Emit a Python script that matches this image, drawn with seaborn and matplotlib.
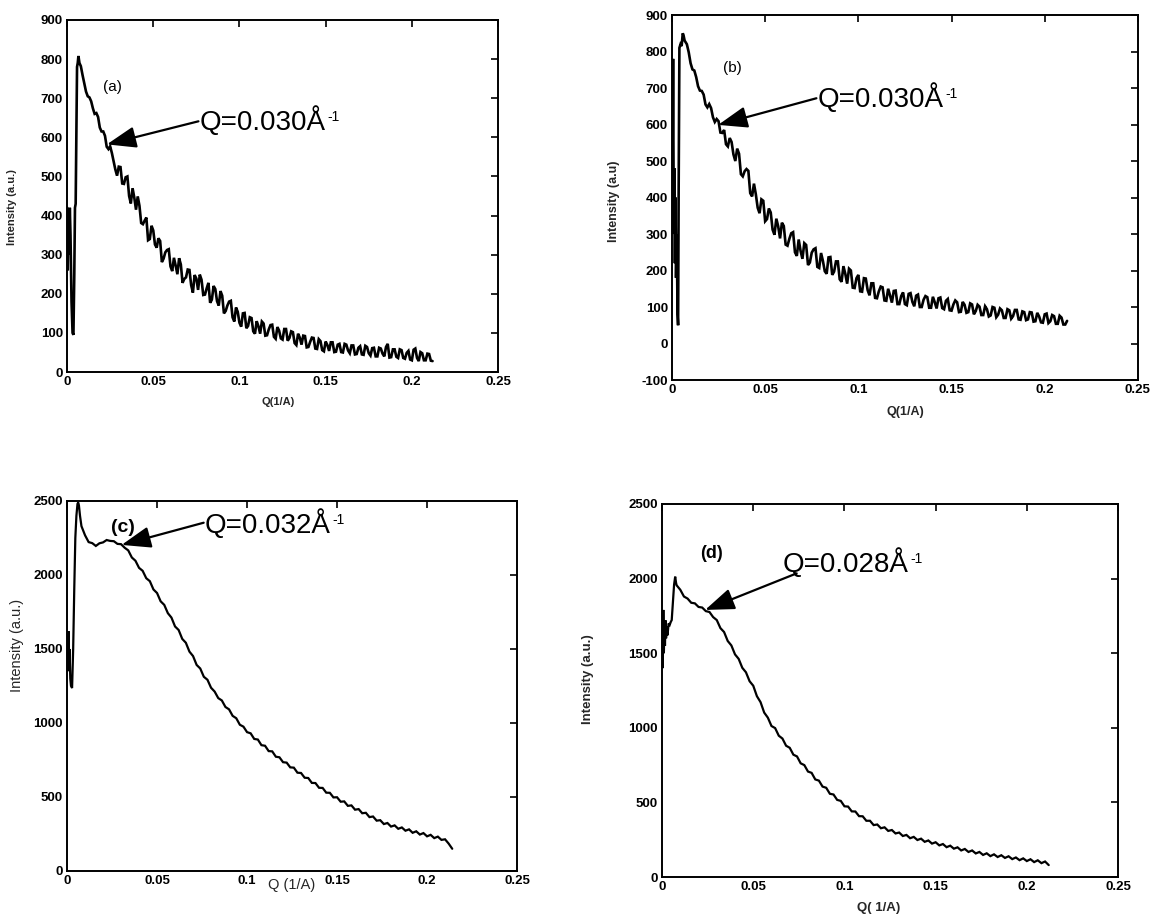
import numpy as np
import pandas as pd
import matplotlib
matplotlib.use("Agg")
import matplotlib.pyplot as plt
import seaborn as sns

# ---------------- data ----------------
q_grid = np.round(np.arange(0.008, 0.2121, 0.002), 4)      # 0.008, 0.010 ... 0.212
q_grid_odd = np.round(np.arange(0.009, 0.2111, 0.002), 4)  # 0.009, 0.011 ... 0.211

q_head_a = [0.0001, 0.0004, 0.0008, 0.0012, 0.0016, 0.0020, 0.0026, 0.0032, 0.0037, 0.0042,
            0.0046, 0.0050, 0.0054, 0.0058, 0.0062, 0.0066, 0.0072]
i_head_a = [420, 260, 400, 300, 420, 350, 180, 100, 95, 250, 420, 430, 600, 780, 790, 808, 790]
i_main_a = [782, 738, 705, 692, 660, 652, 615, 604, 570, 560, 518, 525, 482, 498, 450, 470, 415, 425,
            378, 395, 340, 362, 318, 335, 290, 312, 270, 292, 250, 275, 238, 262, 222, 248, 210, 236,
            198, 228, 185, 212, 170, 195, 156, 180, 140, 165, 126, 150, 112, 140, 104, 130, 98, 124,
            94, 120, 90, 115, 86, 110, 80, 104, 74, 98, 70, 92, 64, 88, 60, 84, 56, 78, 54, 76, 52,
            72, 50, 70, 48, 68, 46, 66, 44, 64, 42, 62, 40, 60, 40, 72, 38, 58, 36, 56, 34, 54, 30,
            60, 28, 48, 30, 46, 28]
i_odd_a = [759, 717, 702, 674, 662, 625, 615, 576, 577, 539, 502, 524, 481, 500, 431, 446, 449, 381,
           387, 337, 374, 326, 342, 281, 306, 314, 258, 272, 291, 228, 242, 261, 203, 239, 249, 197,
           214, 177, 220, 181, 207, 150, 170, 182, 129, 154, 116, 151, 118, 138, 98, 117, 129, 93,
           109, 121, 85, 106, 83, 110, 87, 102, 69, 88, 93, 63, 77, 87, 59, 79, 53, 69, 76, 51, 70,
           51, 72, 55, 68, 45, 62, 45, 67, 48, 61, 40, 62, 47, 64, 37, 58, 39, 58, 36, 49, 32, 57,
           36, 51, 30, 47, 29]

q_head_b = [0.0003, 0.0006, 0.0010, 0.0013, 0.0016, 0.0019, 0.0022, 0.0026, 0.0030, 0.0033,
            0.0036, 0.0040, 0.0046, 0.0052, 0.0058, 0.0062, 0.0068]
i_head_b = [450, 780, 300, 480, 220, 400, 180, 300, 80, 50, 420, 810, 820, 815, 850, 845, 830]
i_main_b = [820, 768, 748, 705, 692, 655, 656, 620, 615, 578, 585, 540, 552, 500, 520, 458, 478, 412,
            438, 372, 395, 335, 370, 312, 342, 288, 322, 268, 302, 250, 285, 232, 270, 222, 258, 210,
            248, 198, 236, 188, 225, 176, 212, 164, 200, 152, 188, 142, 178, 132, 165, 124, 156, 118,
            150, 112, 145, 108, 140, 105, 138, 102, 134, 100, 130, 98, 128, 96, 126, 94, 122, 90, 118,
            86, 114, 84, 110, 80, 106, 78, 102, 74, 100, 72, 96, 70, 94, 68, 92, 66, 88, 64, 86, 60,
            84, 58, 80, 56, 78, 54, 76, 52, 62]
i_odd_b = [798, 751, 730, 693, 682, 647, 645, 607, 609, 577, 546, 563, 518, 534, 464, 472, 473, 403,
           409, 357, 391, 341, 359, 298, 321, 331, 271, 287, 305, 240, 254, 275, 215, 249, 261, 207,
           226, 191, 237, 197, 225, 169, 191, 205, 153, 179, 143, 179, 146, 165, 125, 143, 154, 117,
           132, 144, 108, 130, 108, 136, 114, 131, 100, 120, 127, 98, 113, 124, 97, 117, 91, 107, 113,
           87, 106, 86, 107, 89, 101, 78, 94, 77, 98, 79, 91, 70, 91, 75, 92, 65, 86, 66, 85, 61, 74,
           57, 82, 61, 75, 54, 71, 52]

q_head_c = [0.0002, 0.0005, 0.0008, 0.0011, 0.0014, 0.0018, 0.0022, 0.0028, 0.0034, 0.0040,
            0.0046, 0.0052, 0.0058, 0.0062, 0.0066, 0.0072]
i_head_c = [1600, 1350, 1620, 1380, 1500, 1300, 1250, 1236, 1500, 1900, 2250, 2400, 2480, 2490,
            2470, 2400]
i_main_c = [2330, 2268, 2222, 2215, 2196, 2214, 2220, 2236, 2230, 2228, 2210, 2208, 2184, 2166, 2118,
            2096, 2048, 2028, 1978, 1958, 1902, 1878, 1822, 1798, 1742, 1712, 1652, 1628, 1568, 1542,
            1482, 1452, 1392, 1368, 1312, 1292, 1238, 1212, 1168, 1152, 1108, 1092, 1048, 1032, 988,
            975, 938, 930, 892, 888, 850, 846, 810, 808, 772, 768, 735, 732, 700, 698, 664, 662, 630,
            628, 595, 594, 562, 561, 529, 528, 497, 498, 468, 470, 440, 443, 414, 418, 390, 393, 364,
            368, 340, 343, 317, 324, 300, 308, 285, 294, 272, 281, 258, 268, 246, 256, 234, 244, 222,
            232, 210, 214, 185]
q_tail_c = [0.214]
i_tail_c = [150]

q_head_d = [0.0002, 0.0004, 0.0007, 0.0010, 0.0013, 0.0016, 0.0019, 0.0022, 0.0026, 0.0030,
            0.0036, 0.0042, 0.0048, 0.0053, 0.0060, 0.0066, 0.0072, 0.0077]
i_head_d = [1650, 1400, 1790, 1500, 1700, 1550, 1720, 1600, 1680, 1620, 1700, 1690, 1710, 1722,
            1850, 1960, 2013, 1970]
i_main_d = [1955, 1925, 1880, 1866, 1838, 1834, 1810, 1806, 1782, 1776, 1742, 1722, 1668, 1642, 1582,
            1552, 1492, 1462, 1402, 1372, 1312, 1282, 1212, 1172, 1102, 1068, 1012, 998, 947, 928,
            880, 866, 820, 808, 762, 750, 707, 698, 654, 646, 606, 598, 558, 553, 517, 510, 474, 472,
            440, 439, 408, 407, 377, 377, 348, 352, 327, 333, 309, 315, 292, 298, 275, 282, 260, 269,
            248, 257, 236, 245, 224, 233, 212, 221, 200, 210, 190, 199, 178, 188, 168, 178, 158, 168,
            148, 159, 140, 152, 134, 146, 128, 139, 120, 131, 113, 125, 107, 119, 100, 112, 93, 104, 80]

x_ticks = [0, 0.05, 0.1, 0.15, 0.2, 0.25]
x_tick_labels = ["0", "0.05", "0.1", "0.15", "0.2", "0.25"]
y_ticks_a = [0, 100, 200, 300, 400, 500, 600, 700, 800, 900]
y_ticks_b = [-100, 0, 100, 200, 300, 400, 500, 600, 700, 800, 900]
y_ticks_cd = [0, 500, 1000, 1500, 2000, 2500]

annot_text = ["Q=0.030Å", "Q=0.030Å", "Q=0.032Å", "Q=0.028Å"]
annot_sup = "-1"
panel_tags = ["(a)", "(b)", "(c)", "(d)"]

# ---------------- style ----------------
sns.set_theme(style="white")
plt.rcParams["font.family"] = ["Liberation Sans", "DejaVu Sans"]

fig = plt.figure(figsize=(11.5, 9.17), dpi=100)
fig.patch.set_facecolor("white")

panels = [
    dict(rect=[0.0583, 0.5943, 0.3748, 0.3839], qh=q_head_a, ih=i_head_a, im=i_main_a, io=i_odd_a,
         qt=[], it=[], lw=1.9,
         ylim=(0, 900), yt=y_ticks_a, ylab="Intensity (a.u.)", xlab="Q(1/A)",
         ylc=(-0.115, 0.47), xlc=(0.49, -0.072), labfs=8, labw="bold",
         txt=(0.0767, 620), arr_from=(0.0762, 641), arr_to=(0.0231, 582),
         tag=(0.021, 728), tagfs=11, tagw="normal"),
    dict(rect=[0.5843, 0.5856, 0.4052, 0.3980], qh=q_head_b, ih=i_head_b, im=i_main_b, io=i_odd_b,
         qt=[], it=[], lw=1.9,
         ylim=(-100, 900), yt=y_ticks_b, ylab="Intensity (a.u)", xlab="Q(1/A)",
         ylc=(-0.112, 0.49), xlc=(0.5, -0.07), labfs=9, labw="bold",
         txt=(0.0782, 649), arr_from=(0.0775, 672), arr_to=(0.0248, 599),
         tag=(0.0273, 755), tagfs=11, tagw="normal"),
    dict(rect=[0.0583, 0.0502, 0.3913, 0.4035], qh=q_head_c, ih=i_head_c, im=i_main_c, io=None,
         qt=q_tail_c, it=i_tail_c, lw=1.6,
         ylim=(0, 2500), yt=y_ticks_cd, ylab="Intensity (a.u.)", xlab="Q (1/A)",
         ylc=(-0.095, 0.61), xlc=(0.5, -0.018), labfs=10.5, labw="normal",
         txt=(0.0765, 2284), arr_from=(0.0759, 2353), arr_to=(0.0303, 2203),
         tag=(0.0246, 2324), tagfs=14, tagw="bold"),
    dict(rect=[0.5757, 0.0436, 0.3965, 0.4068], qh=q_head_d, ih=i_head_d, im=i_main_d, io=None,
         qt=[], it=[], lw=1.6,
         ylim=(0, 2500), yt=y_ticks_cd, ylab="Intensity (a.u.)", xlab="Q( 1/A)",
         ylc=(-0.15, 0.53), xlc=(0.474, -0.068), labfs=9.5, labw="bold",
         txt=(0.0662, 2046), arr_from=(0.0738, 2035), arr_to=(0.0236, 1790),
         tag=(0.0208, 2171), tagfs=13, tagw="bold"),
]

for k, p in enumerate(panels):
    ax = fig.add_axes(p["rect"])
    q = list(p["qh"]) + list(q_grid) + list(p["qt"])
    inten = list(p["ih"]) + list(p["im"]) + list(p["it"])
    if p["io"] is not None:
        q += list(q_grid_odd)
        inten += list(p["io"])
    df = pd.DataFrame({"Q": q, "I": inten}).sort_values("Q", kind="stable")
    sns.lineplot(data=df, x="Q", y="I", ax=ax, color="black", linewidth=p["lw"],
                 sort=False, estimator=None)
    for ln in ax.get_lines():
        ln.set_solid_joinstyle("miter")
    ax.set_xlim(0, 0.25)
    ax.set_ylim(*p["ylim"])
    ax.set_xticks(x_ticks)
    ax.set_xticklabels(x_tick_labels)
    ax.set_yticks(p["yt"])
    ax.set_yticklabels([str(v) for v in p["yt"]])
    ax.tick_params(direction="in", top=True, right=True, length=5, width=1.2,
                   labelsize=9.5, pad=3, colors="black")
    for lab in ax.get_xticklabels() + ax.get_yticklabels():
        lab.set_fontweight("bold")
    for sp in ax.spines.values():
        sp.set_visible(True)
        sp.set_color("black")
        sp.set_linewidth(1.4)
    ax.set_xlabel(p["xlab"], fontsize=p["labfs"], fontweight=p["labw"])
    ax.set_ylabel(p["ylab"], fontsize=p["labfs"], fontweight=p["labw"])
    ax.xaxis.set_label_coords(*p["xlc"])
    ax.yaxis.set_label_coords(*p["ylc"])
    ax.grid(False)
    ax.set_facecolor("white")

    t = ax.text(p["txt"][0], p["txt"][1], annot_text[k], fontsize=20, ha="left", va="baseline",
                color="black")
    ax.annotate(annot_sup, xy=(1, 1), xycoords=t, xytext=(1.5, -3), textcoords="offset points",
                fontsize=10, ha="left", va="top", color="black")
    ax.annotate("", xy=p["arr_to"], xytext=p["arr_from"],
                arrowprops=dict(arrowstyle="-|>,head_length=0.9,head_width=0.33",
                                color="black", lw=1.6, shrinkA=0, shrinkB=0,
                                mutation_scale=20))
    ax.text(p["tag"][0], p["tag"][1], panel_tags[k], fontsize=p["tagfs"], fontweight=p["tagw"],
            ha="left", va="center", color="black")

fig.savefig("out.png", dpi=100, facecolor="white")
